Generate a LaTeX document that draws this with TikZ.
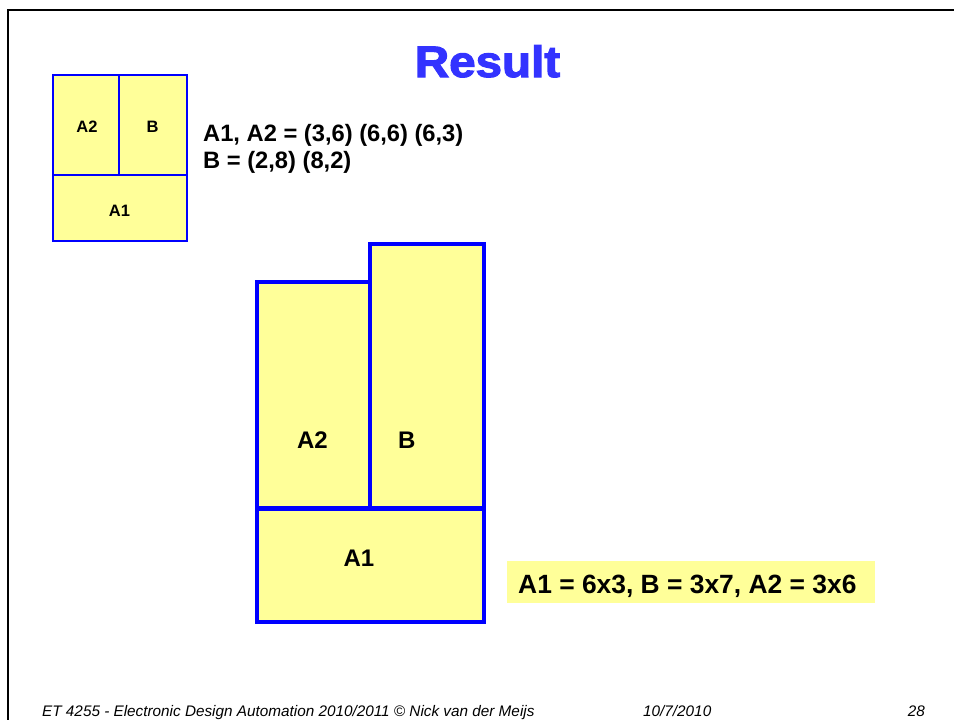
\documentclass[tikz,border=0pt]{standalone}
\usepackage{fontspec}
\setmainfont{Liberation Sans}
\newfontfamily\titlefont[BoldFeatures={FakeBold=2.5}]{Liberation Sans}
\definecolor{boxyellow}{HTML}{FFFF99}
\definecolor{boxblue}{HTML}{0000FF}
\definecolor{titleblue}{HTML}{3333FF}
\tikzset{
  smallbox/.style={fill=boxyellow, draw=boxblue, line width=2pt},
  bigbox/.style={fill=boxyellow, draw=boxblue, line width=3.3pt},
  smalllbl/.style={anchor=base, inner sep=0pt, font=\fontsize{16.5}{19}\selectfont\bfseries},
  biglbl/.style={anchor=base, inner sep=0pt, font=\fontsize{24}{28}\selectfont\bfseries},
  txt/.style={anchor=base west, inner sep=0pt, font=\fontsize{23.7}{28}\selectfont\bfseries},
  foot/.style={inner sep=0pt, font=\fontsize{15.3}{18}\selectfont\itshape},
}
\begin{document}
\begin{tikzpicture}[x=1pt,y=-1pt]
\useasboundingbox (0,0) rectangle (954,720);
\fill[white] (0,0) rectangle (954,720);
% frame
\draw[line width=2pt] (8,720) -- (8,10) -- (954,10);
% title
\node[inner sep=0pt, anchor=base, text=titleblue, xscale=1.08,
      font=\titlefont\fontsize{44}{50}\selectfont\bfseries] (title) at (487.5,77) {Result};
% small figure
\draw[smallbox] (53,75) rectangle (187,241);
\draw[boxblue, line width=2pt] (53,175) -- (187,175);
\draw[boxblue, line width=2pt] (119,75) -- (119,175);
\node[smalllbl] (sA2) at (87,132) {A2};
\node[smalllbl] (sB) at (152.5,132) {B};
\node[smalllbl] (sA1) at (119.5,216) {A1};
% text
\node[txt] (t1) at (203,141.7) {A1, A2 = (3,6) (6,6) (6,3)};
\node[txt] (t2) at (203,168.3) {B = (2,8) (8,2)};
% big figure
\draw[bigbox] (257,282) rectangle (370,508);
\draw[bigbox] (370,244) rectangle (484,508);
\draw[bigbox] (257,509) rectangle (484,622);
\node[biglbl] (bA2) at (312.5,448.3) {A2};
\node[biglbl] (bB) at (406.7,448.3) {B};
\node[biglbl] (bA1) at (359,566.7) {A1};
% result highlight
\fill[boxyellow] (507,561) rectangle (875,603);
\node[anchor=base west, inner sep=0pt, font=\fontsize{26.4}{30}\selectfont\bfseries] (res) at (518,593) {A1 = 6x3, B = 3x7, A2 = 3x6};
% footer
\node[foot, anchor=base west] (f1) at (42,716.7) {ET 4255 - Electronic Design Automation 2010/2011 © Nick van der Meijs};
\node[foot, anchor=base west] (f2) at (643,716.7) {10/7/2010};
\node[foot, anchor=base east] (f3) at (925,716.7) {28};
\end{tikzpicture}
\end{document}
